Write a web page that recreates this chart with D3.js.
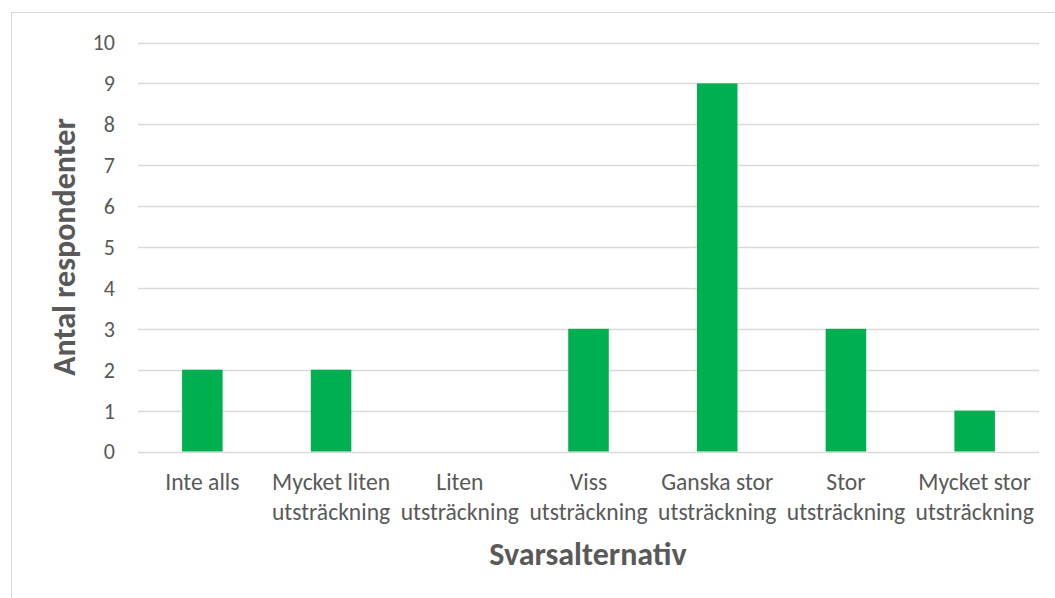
<!DOCTYPE html>
<html><head><meta charset="utf-8">
<script src="https://cdn.jsdelivr.net/npm/d3@7"></script>
<style>body{margin:0;background:#fff}svg{display:block}text{font-family:Carlito,Calibri,Lato,"Open Sans",sans-serif}</style>
</head><body><svg id="c" width="1055" height="598"></svg>
<script>
const categories = [["Inte alls"],["Mycket liten","utsträckning"],["Liten","utsträckning"],["Viss","utsträckning"],["Ganska stor","utsträckning"],["Stor","utsträckning"],["Mycket stor","utsträckning"]];
const values = [2,2,0,3,9,3,1];
const yTicks = [0,1,2,3,4,5,6,7,8,9,10];
const yTitle = "Antal respondenter";
const xTitle = "Svarsalternativ";

(function(){
const svg = d3.select("#c");
const grey = "#595959";
svg.append("rect").attr("x",11.5).attr("y",12.5).attr("width",1060).attr("height",600)
  .attr("fill","#fff").attr("stroke","#d9d9d9").attr("stroke-width",1);

const pL=138, pR=1039, pT=42.5, pB=451.5;
const x = d3.scaleBand().domain(d3.range(categories.length)).range([pL,pR]).paddingInner(0.685).paddingOuter(0.3425);
const y = d3.scaleLinear().domain([0,10]).range([pB,pT]);

const g = svg.append("g");
g.selectAll("line.grid").data(yTicks).join("line").attr("class","grid")
  .attr("x1",pL).attr("x2",pR).attr("y1",d=>Math.round(y(d))+0.5).attr("y2",d=>Math.round(y(d))+0.5)
  .attr("stroke","#d9d9d9").attr("stroke-width",1.3);

g.selectAll("text.yt").data(yTicks).join("text").attr("class","yt")
  .attr("x",115).attr("y",d=>y(d)).attr("dy","0.36em").attr("text-anchor","end")
  .attr("font-size",22).attr("fill",grey).text(d=>d);

g.selectAll("rect.bar").data(values).join("rect").attr("class","bar")
  .attr("x",(d,i)=>x(i)).attr("width",x.bandwidth())
  .attr("y",d=>y(d)).attr("height",d=>y(0)-y(d)).attr("fill","#00b050");

const xl = g.selectAll("text.xt").data(categories).join("text").attr("class","xt")
  .attr("x",(d,i)=>x(i)+x.bandwidth()/2).attr("y",490)
  .attr("text-anchor","middle").attr("font-size",23.6).attr("fill",grey);
xl.selectAll("tspan").data(d=>d).join("tspan")
  .attr("x",function(){return this.parentNode.getAttribute("x");})
  .attr("dy",(d,i)=>i===0?0:30).text(d=>d);

svg.append("text").attr("transform","translate(75,247) rotate(-90)").attr("text-anchor","middle")
  .attr("font-size",32).attr("font-weight","bold").attr("fill",grey).text(yTitle);
svg.append("text").attr("x",588).attr("y",565).attr("text-anchor","middle")
  .attr("font-size",32).attr("font-weight","bold").attr("fill",grey).text(xTitle);
})();
</script></body></html>
